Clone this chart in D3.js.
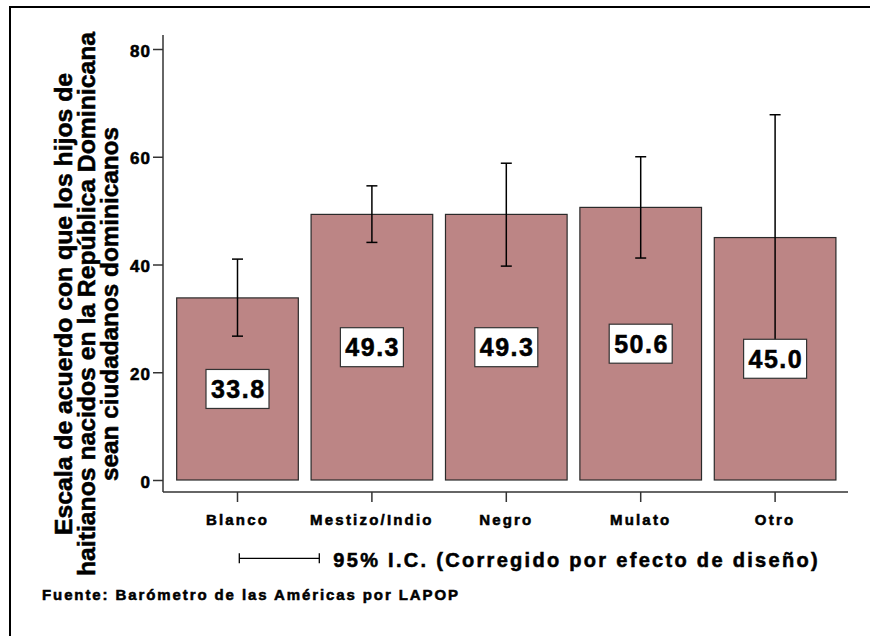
<!DOCTYPE html>
<html>
<head>
<meta charset="utf-8">
<script src="https://cdn.jsdelivr.net/npm/d3@7"></script>
<style>
  html, body { margin: 0; padding: 0; background: #fff; }
  svg { display: block; font-family: Arial, "Liberation Sans", Helvetica, sans-serif; font-weight: bold; }
  text { stroke: #000; stroke-width: 0.55px; paint-order: stroke; }
</style>
</head>
<body>
<svg id="chart" width="870" height="636"></svg>
<script>
// ---- data ----
const categories = ["Blanco", "Mestizo/Indio", "Negro", "Mulato", "Otro"];
const values = [33.8, 49.3, 49.3, 50.6, 45.0];
const ciLower = [26.7, 44.1, 39.7, 41.2, 22.2];
const ciUpper = [41.0, 54.6, 58.8, 60.0, 67.8];
const yTicks = [0, 20, 40, 60, 80];
const yTitleLines = [
  "Escala de acuerdo con que los hijos de",
  "haitianos nacidos en la República Dominicana",
  "sean ciudadanos dominicanos"
];
const legendText = "95% I.C. (Corregido por efecto de diseño)";
const sourceText = "Fuente: Barómetro de las Américas por LAPOP";

// ---- layout ----
const svg = d3.select("#chart");
const barFill = "#bc8585";

// frame
svg.append("rect").attr("x", 10).attr("y", 7).attr("width", 1000).attr("height", 1000)
  .attr("fill", "none").attr("stroke", "#000").attr("stroke-width", 2);

const y = d3.scaleLinear().domain([0, 80]).range([480, 49]);
const x = d3.scaleBand().domain(categories).range([170.3, 842.3])
  .paddingInner(0.095).paddingOuter(0.0475);

const axisX0 = 163, axisY0 = 492;

// y axis
const yAxis = svg.append("g").attr("transform", `translate(${axisX0},0)`)
  .call(d3.axisLeft(y).tickValues(yTicks).tickSize(10).tickPadding(3).tickFormat(d3.format("d")));
yAxis.select(".domain").remove();
yAxis.selectAll(".tick line").attr("stroke", "#333").attr("stroke-width", 1.5);
yAxis.selectAll(".tick text")
  .attr("font-size", 17).attr("font-weight", "bold").attr("fill", "#000")
  .attr("font-family", 'Arial, "Liberation Sans", sans-serif')
  .attr("letter-spacing", 1).attr("dy", "0.42em").attr("x", -12);
svg.append("line").attr("x1", axisX0).attr("x2", axisX0).attr("y1", 35).attr("y2", axisY0)
  .attr("stroke", "#333").attr("stroke-width", 1.5);

// x axis
const xAxis = svg.append("g").attr("transform", `translate(0,${axisY0})`)
  .call(d3.axisBottom(x).tickSize(10).tickPadding(0));
xAxis.select(".domain").remove();
xAxis.selectAll(".tick line").attr("stroke", "#333").attr("stroke-width", 1.5);
xAxis.selectAll(".tick text")
  .attr("font-size", 15).attr("font-weight", "bold").attr("fill", "#000")
  .attr("font-family", 'Arial, "Liberation Sans", sans-serif')
  .attr("letter-spacing", 2.2).attr("y", 33).attr("dy", 0);
svg.append("line").attr("x1", axisX0).attr("x2", 848).attr("y1", axisY0).attr("y2", axisY0)
  .attr("stroke", "#333").attr("stroke-width", 1.5);

const data = categories.map((c, i) => ({ c, v: values[i], lo: ciLower[i], hi: ciUpper[i] }));

// bars
svg.append("g").selectAll("rect").data(data).join("rect")
  .attr("x", d => x(d.c)).attr("width", x.bandwidth())
  .attr("y", d => y(d.v)).attr("height", d => y(0) - y(d.v))
  .attr("fill", barFill).attr("stroke", "#2a2a2a").attr("stroke-width", 1.2);

// error bars
const capW = 5.5;
const eb = svg.append("g").attr("stroke", "#000").attr("stroke-width", 1.5).attr("fill", "none");
data.forEach(d => {
  const cx = x(d.c) + x.bandwidth() / 2;
  eb.append("line").attr("x1", cx).attr("x2", cx).attr("y1", y(d.hi)).attr("y2", y(d.lo));
  eb.append("line").attr("x1", cx - capW).attr("x2", cx + capW).attr("y1", y(d.hi)).attr("y2", y(d.hi));
  eb.append("line").attr("x1", cx - capW).attr("x2", cx + capW).attr("y1", y(d.lo)).attr("y2", y(d.lo));
});

// value labels
const boxW = 63, boxH = 39;
const lab = svg.append("g");
data.forEach(d => {
  const cx = x(d.c) + x.bandwidth() / 2;
  const cy = (y(d.v) + y(0)) / 2;
  lab.append("rect").attr("x", cx - boxW / 2).attr("y", cy - boxH / 2)
    .attr("width", boxW).attr("height", boxH)
    .attr("fill", "#fff").attr("stroke", "#333").attr("stroke-width", 1.2);
  lab.append("text").attr("x", cx + 0.8).attr("y", cy + 9)
    .attr("text-anchor", "middle").attr("font-size", 25).attr("letter-spacing", 1.5)
    .attr("fill", "#000").text(d3.format(".1f")(d.v));
});

// y title
const titleBase = [72, 95, 117.5];
const titleLen = [462, 544, 354];
yTitleLines.forEach((t, i) => {
  svg.append("text")
    .attr("transform", `translate(${titleBase[i]},304) rotate(-90)`)
    .attr("text-anchor", "middle").attr("font-size", 24.4).attr("fill", "#000")
    .attr("textLength", titleLen[i]).attr("lengthAdjust", "spacingAndGlyphs")
    .text(t);
});

// legend
const lg = svg.append("g").attr("stroke", "#000").attr("stroke-width", 1.3);
lg.append("line").attr("x1", 239.3).attr("x2", 319.3).attr("y1", 558.3).attr("y2", 558.3);
lg.append("line").attr("x1", 239.3).attr("x2", 239.3).attr("y1", 553.3).attr("y2", 563.3);
lg.append("line").attr("x1", 319.3).attr("x2", 319.3).attr("y1", 553.3).attr("y2", 563.3);
svg.append("text").attr("x", 333.3).attr("y", 567).attr("font-size", 20)
  .attr("letter-spacing", 2.3).attr("fill", "#000").text(legendText);

// source
svg.append("text").attr("x", 42).attr("y", 600).attr("font-size", 15)
  .attr("letter-spacing", 1.9).attr("fill", "#000").text(sourceText);
</script>
</body>
</html>
